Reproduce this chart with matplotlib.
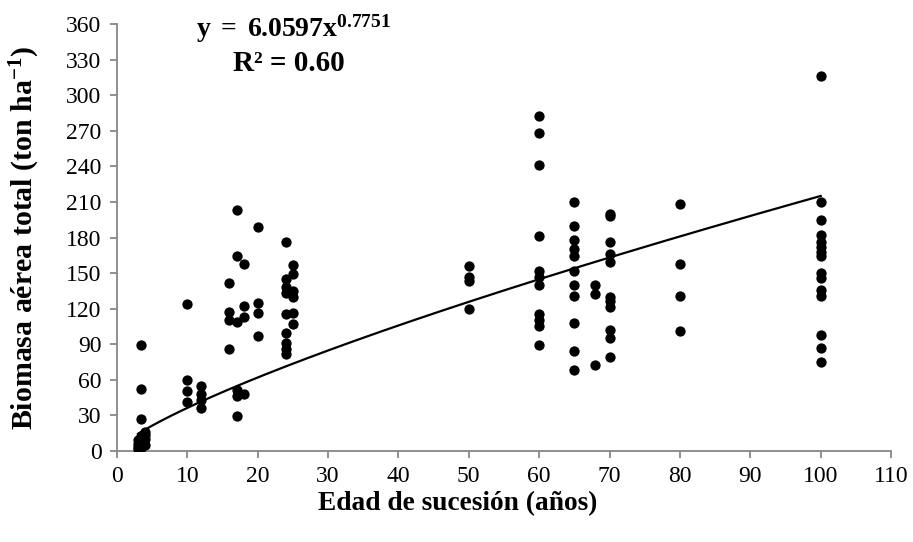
import numpy as np
import matplotlib.pyplot as plt

plt.rcParams['font.family'] = ['Liberation Serif', 'DejaVu Serif']
plt.rcParams['mathtext.fontset'] = 'custom'
plt.rcParams['mathtext.rm'] = 'Liberation Serif'
plt.rcParams['mathtext.bf'] = 'Liberation Serif:bold'
plt.rcParams['mathtext.it'] = 'Liberation Serif:italic'

# edad de sucesion (anos) y biomasa aerea total (ton/ha)
edad = [3, 3, 3, 3, 3.5, 3.5, 3.5, 4, 4, 4, 4, 3.5, 3.5, 3.5,
        10, 10, 10, 10,
        12, 12, 12, 12,
        16, 16, 16, 16,
        17, 17, 17, 17, 17, 17,
        18, 18, 18, 18,
        20, 20, 20, 20,
        24, 24, 24, 24, 24, 24, 24, 24, 24,
        25, 25, 25, 25, 25, 25,
        50, 50, 50, 50,
        60, 60, 60, 60, 60, 60, 60, 60, 60, 60, 60,
        65, 65, 65, 65, 65, 65, 65, 65, 65, 65, 65,
        68, 68, 68,
        70, 70, 70, 70, 70, 70, 70, 70, 70, 70, 70,
        80, 80, 80, 80,
        100, 100, 100, 100, 100, 100, 100, 100, 100, 100, 100, 100, 100, 100, 100]
biomasa = [1, 3, 6, 9, 2, 7, 12, 5, 10, 13, 16, 89, 52, 27,
           124, 60, 50, 41,
           55, 48, 43, 36,
           142, 117, 110, 86,
           203, 164, 109, 51, 46, 29,
           158, 122, 113, 48,
           189, 125, 116, 97,
           176, 145, 138, 133, 115, 99, 91, 86, 82,
           157, 149, 135, 130, 116, 107,
           156, 147, 143, 120,
           283, 268, 241, 181, 152, 147, 140, 115, 110, 105, 89,
           210, 190, 178, 170, 164, 152, 140, 131, 108, 84, 68,
           140, 132, 72,
           200, 198, 176, 166, 159, 130, 126, 121, 102, 95, 79,
           208, 158, 131, 101,
           316, 210, 195, 182, 176, 172, 168, 164, 150, 146, 136, 131, 98, 87, 75]

a_coef = 6.0597
b_exp = 0.7751

fig = plt.figure(figsize=(9.13, 5.42), dpi=100)
ax = fig.add_axes([0.128, 0.1685, 0.848, 0.7865])

ax.scatter(edad, biomasa, s=55, color='black', zorder=3, linewidths=0)

xf = np.linspace(min(edad), max(edad), 200)
ax.plot(xf, a_coef * xf ** b_exp, color='black', lw=1.6, zorder=2)

ax.set_xlim(0, 110)
ax.set_ylim(0, 360)
ax.set_xticks(np.arange(0, 111, 10))
ax.set_yticks(np.arange(0, 361, 30))

gris = '#878787'
for s in ['top', 'right']:
    ax.spines[s].set_visible(False)
for s in ['left', 'bottom']:
    ax.spines[s].set_color(gris)
    ax.spines[s].set_linewidth(1.3)
ax.tick_params(axis='both', direction='out', length=5, width=1.3, color=gris,
               labelsize=17, labelcolor='black')
ax.tick_params(axis='y', pad=6)
ax.tick_params(axis='x', pad=6)

ax.set_xlabel('Edad de sucesión (años)', fontsize=19.7, fontweight='bold')
ax.xaxis.set_label_coords(0.44, -0.095)
ax.set_ylabel(r'Biomasa aérea total (ton ha$^{\mathbf{-1}}$)', fontsize=21.5,
              fontweight='bold')
ax.yaxis.set_label_coords(-0.097, 0.5)

ax.text(0.3215, 0.977, r'$\mathbf{y\ =\ 6.0597x^{0.7751}}$', transform=fig.transFigure,
        fontsize=20, ha='center', va='top')
ax.text(0.316, 0.907, 'R² = 0.60', transform=fig.transFigure,
        fontsize=21, fontweight='bold', ha='center', va='top')

fig.savefig('out.png', dpi=100)
